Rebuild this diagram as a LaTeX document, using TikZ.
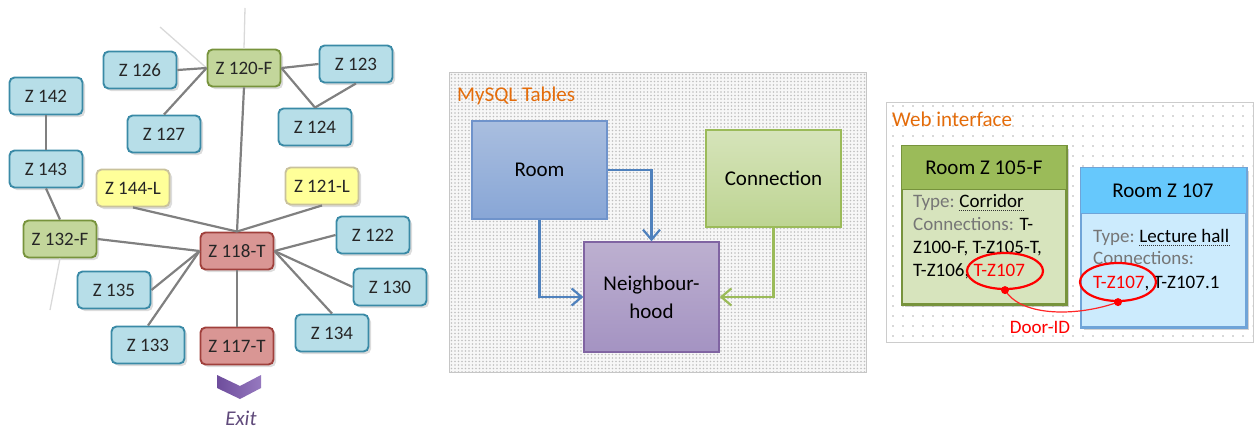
\documentclass[tikz,border=0pt]{standalone}
\usepackage{fontspec}
\setmainfont{Carlito}
\usetikzlibrary{arrows.meta,shadows,patterns.meta,calc,shapes.geometric}

% zone graph colours
\definecolor{ink}{HTML}{262626}
\definecolor{zblue}{HTML}{B7DEE8}
\definecolor{zblueD}{HTML}{3A8AA6}
\definecolor{zgreen}{HTML}{C3D69B}
\definecolor{zgreenD}{HTML}{77933C}
\definecolor{zred}{HTML}{D99694}
\definecolor{zredD}{HTML}{A0403C}
\definecolor{zyellow}{HTML}{FFFF99}
\definecolor{zyellowD}{HTML}{C9C29C}
\definecolor{linkgray}{HTML}{808080}
\definecolor{faintgray}{HTML}{D9D9D9}
\definecolor{chevL}{HTML}{6E4D9C}
\definecolor{chevR}{HTML}{9679BF}
\definecolor{exitC}{HTML}{604A7B}
% table colours
\definecolor{orng}{HTML}{E46C0A}
\definecolor{roomT}{HTML}{A9BEDF}
\definecolor{roomB}{HTML}{88A6D6}
\definecolor{roomD}{HTML}{6F93CB}
\definecolor{connT}{HTML}{D6E4BA}
\definecolor{connB}{HTML}{BDD492}
\definecolor{connD}{HTML}{9BBB59}
\definecolor{nbhT}{HTML}{BDB0D0}
\definecolor{nbhB}{HTML}{A493C2}
\definecolor{nbhD}{HTML}{8064A2}
\definecolor{arrBlue}{HTML}{4F81BD}
\definecolor{arrGreen}{HTML}{9BBB59}
% web interface colours
\definecolor{hdrG}{HTML}{9BBB59}
\definecolor{bodyG}{HTML}{D7E4BD}
\definecolor{brdG}{HTML}{77933C}
\definecolor{hdrB}{HTML}{66C8FC}
\definecolor{bodyB}{HTML}{CCEBFD}
\definecolor{brdB}{HTML}{6FA4D8}
\definecolor{lbl}{HTML}{767676}
\definecolor{hot}{HTML}{FF0000}

\newcommand{\zonefont}{\fontsize{19}{22}\selectfont}
\newcommand{\bigfont}{\fontsize{21}{26}\selectfont}

\begin{document}
\begin{tikzpicture}[x=1pt,y=-1pt,
  zone/.style={rounded corners=5pt, line width=1.9pt, minimum width=73pt,
    minimum height=37pt, inner sep=0pt, font=\zonefont, text=ink,
    drop shadow={opacity=0.28, shadow xshift=2.5pt, shadow yshift=-2.5pt}},
  bluezone/.style={zone, draw=zblueD, fill=zblue},
  greenzone/.style={zone, draw=zgreenD, fill=zgreen},
  redzone/.style={zone, draw=zredD, fill=zred},
  yellowzone/.style={zone, draw=zyellowD, fill=zyellow},
  link/.style={draw=linkgray, line width=2.2pt},
  faint/.style={draw=faintgray, line width=1.3pt},
  tablebox/.style={line width=1.3pt, inner sep=0pt, font=\bigfont, text=black, align=center},
  flow/.style={line width=2.2pt, -{Straight Barb[length=10pt,width=17pt,line width=2.2pt]}},
  card/.style={line width=1.5pt, inner sep=0pt,
    drop shadow={opacity=0.35, shadow xshift=3pt, shadow yshift=-3pt}},
  bodytext/.style={anchor=base west, inner sep=0pt, font=\zonefont, text=black},
  dotunder/.style={line width=0.9pt, dash pattern=on 0.9pt off 1.1pt, draw=black!80}]
\useasboundingbox (0,0) rectangle (1258,428);

% ---------- zone graph ----------
\node[greenzone]  (z120) at (244,68)  {Z 120-F};
\node[bluezone]   (z126) at (140,70)  {Z 126};
\node[bluezone]   (z123) at (356,64)  {Z 123};
\node[bluezone]   (z142) at (46,96)   {Z 142};
\node[bluezone]   (z127) at (164,134) {Z 127};
\node[bluezone]   (z124) at (315,127) {Z 124};
\node[bluezone]   (z143) at (46,169)  {Z 143};
\node[yellowzone] (z144) at (133,188) {Z 144-L};
\node[yellowzone] (z121) at (322,186) {Z 121-L};
\node[greenzone]  (z132) at (60,239)  {Z 132-F};
\node[redzone]    (z118) at (237,251) {Z 118-T};
\node[bluezone]   (z122) at (373,235) {Z 122};
\node[bluezone]   (z135) at (114,290) {Z 135};
\node[bluezone]   (z130) at (390,287) {Z 130};
\node[bluezone]   (z133) at (148,345) {Z 133};
\node[redzone]    (z117) at (237,346) {Z 117-T};
\node[bluezone]   (z134) at (332,333) {Z 134};

% corridors leaving the plan
\coordinate (upA) at (245,8);
\coordinate (upB) at (160,27);
\coordinate (downA) at (50,310);
\draw[faint] (z120.north) -- (upA);
\draw[faint] (z120.west) -- (upB);
\draw[faint] (z132.south) -- (downA);

\draw[link] (z126.east) -- (z120.west);
\draw[link] (z127.north) -- (z120.west);
\draw[link] (z123.west) -- (z120.east);
\draw[link] (z124.north) -- (z120.east);
\draw[link] (z124.north) -- (z123.south);
\draw[link] (z142.south) -- (z143.north);
\draw[link] (z143.south) -- (z132.north);
\draw[link] (z120.south) -- (z118.north);
\draw[link] (z144.south) -- (z118.north);
\draw[link] (z121.south) -- (z118.north);
\draw[link] (z132.east) -- (z118.west);
\draw[link] (z118.west) -- (z135.east);
\draw[link] (z118.west) -- (z133.north);
\draw[link] (z118.south) -- (z117.north);
\draw[link] (z118.east) -- (z122.west);
\draw[link] (z118.east) -- (z130.west);
\draw[link] (z118.east) -- (z134.north);

% exit marker
\shade[left color=chevL, right color=chevR]
  (217,375) -- (240,386) -- (261,375) -- (261,388) -- (240,399) -- (217,388) -- cycle;
\node[font=\itshape\fontsize{21}{24}\selectfont, text=exitC, inner sep=0pt] (exit) at (241,418) {Exit};

% ---------- MySQL tables ----------
\draw[draw=gray!45, line width=1pt, fill=gray!6] (449,73) rectangle (866,372);
\fill[pattern={Dots[distance=3.5pt, radius=0.8pt]}, pattern color=gray!50] (449.5,73.5) rectangle (865.5,371.5);
\node[anchor=west, inner sep=0pt, text=orng, font=\bigfont] (mysqlT) at (457,96) {MySQL Tables};

\node[tablebox, draw=roomD, top color=roomT, bottom color=roomB,
  minimum width=135pt, minimum height=98pt] (room) at (539.5,170) {Room};
\node[tablebox, draw=connD, top color=connT, bottom color=connB,
  minimum width=135pt, minimum height=97pt] (conn) at (773.5,178.5) {Connection};
\node[tablebox, draw=nbhD, top color=nbhT, bottom color=nbhB,
  minimum width=135pt, minimum height=110pt, font=\fontsize{21}{28}\selectfont] (nbh) at (651.5,297) {Neighbour-\\hood};

\draw[flow, arrBlue] (room.east) -| (nbh.north);
\draw[flow, arrBlue] (room.south) |- (nbh.west);
\draw[flow, arrGreen] (conn.south) |- (nbh.east);

% ---------- web interface ----------
\draw[draw=gray!40, line width=1pt, fill=white] (886,102) rectangle (1253,342);
\fill[pattern={Dots[distance=10pt, radius=0.8pt, xshift=3pt, yshift=2pt]}, pattern color=gray!60] (886.5,102.5) rectangle (1252.5,341.5);
\node[anchor=west, inner sep=0pt, text=orng, font=\bigfont] (webT) at (892,119) {Web interface};

% card: corridor
\node[card, draw=brdG, fill=bodyG, minimum width=164pt, minimum height=158pt] (c105) at (984,225) {};
\fill[hdrG] (c105.north west) rectangle ($(c105.north east)+(0,44)$);
\draw[brdG, line width=1.5pt] (c105.north west) rectangle (c105.south east);
\draw[brdG, line width=1.5pt] ($(c105.north west)+(0,44)$) -- ($(c105.north east)+(0,44)$);
\node[inner sep=0pt, font=\bigfont, text=black] (h105) at (984,168) {Room Z 105-F};
\node[bodytext, text=lbl] (a1) at (913,207) {Type:};
\node[bodytext] (a1v) at ($(a1.base east)+(4.3,0)$) {Corridor};
\draw[dotunder] ($(a1v.base west)+(0,3)$) -- ($(a1v.base east)+(0,3)$);
\node[bodytext] (a2) at (913,230) {\textcolor{lbl}{Connections:} T-};
\node[bodytext] (a3) at (913,253) {Z100-F, T-Z105-T,};
\node[bodytext] (a4) at (913,276) {T-Z106, \textcolor{hot}{T-Z107}};

% card: lecture hall
\node[card, draw=brdB, fill=bodyB, minimum width=165pt, minimum height=159pt] (c107) at (1163.5,247.5) {};
\fill[hdrB] (c107.north west) rectangle ($(c107.north east)+(0,46)$);
\draw[brdB, line width=1.5pt] (c107.north west) rectangle (c107.south east);
\draw[brdB, line width=1.5pt] ($(c107.north west)+(0,46)$) -- ($(c107.north east)+(0,46)$);
\node[inner sep=0pt, font=\bigfont, text=black] (h107) at (1163,191) {Room Z 107};
\node[bodytext, text=lbl] (b1) at (1093,242) {Type:};
\node[bodytext] (b1v) at ($(b1.base east)+(4.3,0)$) {Lecture hall};
\draw[dotunder] ($(b1v.base west)+(0,3)$) -- ($(b1v.base east)+(0,3)$);
\node[bodytext, text=lbl] (b2) at (1093,264) {Connections:};
\node[bodytext] (b3) at (1093,288) {\textcolor{hot}{T-Z107}, T-Z107.1};

% door link between the two cards
\node[ellipse, draw=hot, line width=2.2pt, minimum width=76pt, minimum height=36pt, inner sep=0pt] (e1) at (1005,271) {};
\node[ellipse, draw=hot, line width=2.2pt, minimum width=76pt, minimum height=38pt, inner sep=0pt] (e2) at (1118,282) {};
\draw[hot!85, line width=1.2pt] (e1.south) .. controls (1022,318) and (1080,316) .. (e2.south);
\fill[hot] (e1.south) circle (4pt);
\fill[hot] (e2.south) circle (4pt);
\node[inner sep=0pt, text=hot, font=\zonefont] (door) at (1040,327) {Door-ID};
\end{tikzpicture}
\end{document}
